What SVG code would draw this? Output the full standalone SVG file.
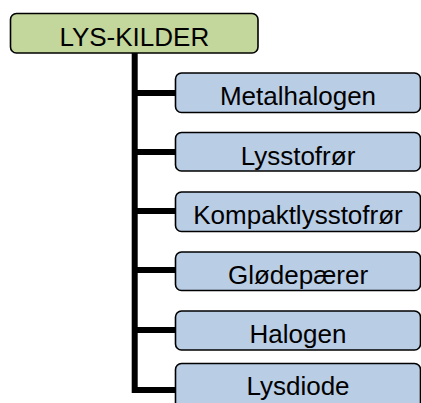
<svg xmlns="http://www.w3.org/2000/svg" width="421" height="403" viewBox="0 0 421 403">
<style>
.root{fill:#c3d69b;stroke:#000;stroke-width:1.6}
.child{fill:#b9cde5;stroke:#000;stroke-width:1.6}
.t{font-family:"Liberation Sans",Arial,sans-serif;font-size:26px;fill:#000;text-anchor:middle}
.c{fill:none;stroke:#000;stroke-width:6;stroke-linejoin:miter}
</style>
<rect width="421" height="403" fill="#fff"/>
<g id="connectors">
<path class="c" d="M134.7,53 V390 H175"/>
<path class="c" d="M134.7,93 H175 M134.7,152 H175 M134.7,211 H175 M134.7,270 H175 M134.7,330 H175"/>
</g>
<g id="root"><rect class="root" x="10.5" y="13.5" width="247.5" height="39.5" rx="6"/><text class="t" x="134.3" y="45.5">LYS-KILDER</text></g>
<g id="n1"><rect class="child" x="175.5" y="73" width="245" height="39.5" rx="6"/><text class="t" x="298" y="105">Metalhalogen</text></g>
<g id="n2"><rect class="child" x="175.5" y="132.5" width="245" height="38.5" rx="6"/><text class="t" x="298" y="164.5">Lysstofrør</text></g>
<g id="n3"><rect class="child" x="175.5" y="192" width="245" height="39.5" rx="6"/><text class="t" x="298" y="224">Kompaktlysstofrør</text></g>
<g id="n4"><rect class="child" x="175.5" y="252" width="245" height="38.5" rx="6"/><text class="t" x="298" y="284">Glødepærer</text></g>
<g id="n5"><rect class="child" x="175.5" y="311" width="245" height="39" rx="6"/><text class="t" x="298" y="343">Halogen</text></g>
<g id="n6"><rect class="child" x="175.5" y="363.5" width="245" height="54" rx="6"/><text class="t" x="298" y="395">Lysdiode</text></g>
</svg>
